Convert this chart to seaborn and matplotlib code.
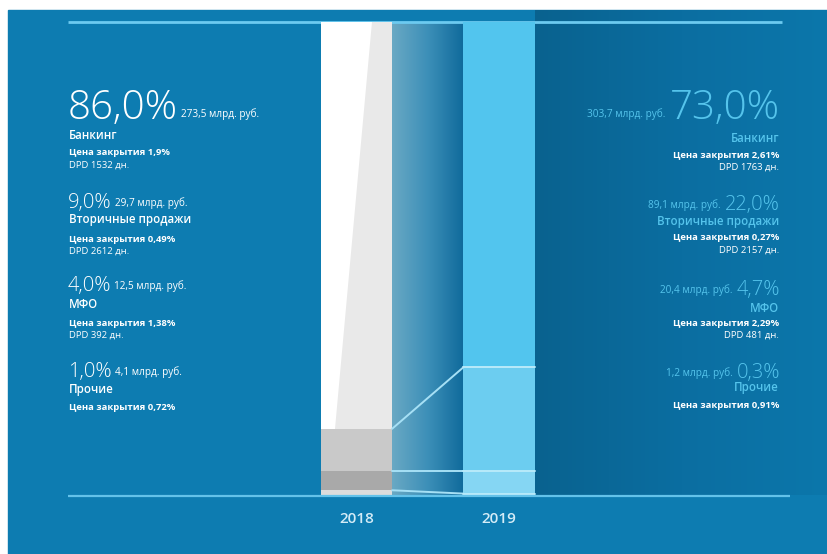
import numpy as np
import matplotlib
matplotlib.use("Agg")
import matplotlib.pyplot as plt
from matplotlib.colors import LinearSegmentedColormap
from matplotlib.patches import Rectangle, Polygon
import seaborn as sns

# ---- data -------------------------------------------------------------
years = ["2018", "2019"]
categories = ["Банкинг", "Вторичные продажи", "МФО", "Прочие"]
share_2018 = [86.0, 9.0, 4.0, 1.0]
share_2019 = [73.0, 22.0, 4.7, 0.3]
amount_2018 = ["273,5", "29,7", "12,5", "4,1"]
amount_2019 = ["303,7", "89,1", "20,4", "1,2"]
close_2018 = ["1,9%", "0,49%", "1,38%", "0,72%"]
close_2019 = ["2,61%", "0,27%", "2,29%", "0,91%"]
dpd_2018 = ["1532", "2612", "392", None]
dpd_2019 = ["1763", "2157", "481", None]

# ---- style ------------------------------------------------------------
sns.set_theme(style="white")
plt.rcParams["font.family"] = ["Open Sans", "DejaVu Sans"]

W, H = 828, 554
fig = plt.figure(figsize=(W / 100, H / 100), dpi=100, facecolor="white")

PANEL = "#0d7cb1"
fig.patches.append(Rectangle((8 / W, 0), (W - 8) / W, (H - 10) / H,
                             transform=fig.transFigure, color=PANEL,
                             zorder=-5))

ax = fig.add_axes([0, 0, 1, 1])
ax.set_facecolor("none")
XLIM = (-356.5 / 142.5, (W - 356.5) / 142.5)
YLIM = ((495 - H) / 4.73, 495 / 4.73)
panel_top = (495 - 10) / 4.73

bar_w = 0.5
pos = {"2018": 0.0, "2019": 1.0}

# darker zone to the right of the 2019 column
dark = LinearSegmentedColormap.from_list(
    "dark", [(0, "#09628f"), (0.5, "#0b6ea1"), (1, "#0c77ab")])
ax.imshow(np.linspace(0, 1, 256)[None, :], cmap=dark, aspect="auto",
          extent=(1 + bar_w / 2, XLIM[1], 0, panel_top), zorder=1,
          interpolation="bilinear")

# band linking the two columns
band = LinearSegmentedColormap.from_list(
    "band", [(0, "#6aa9c4"), (0.5, "#3c8fb8"), (1, "#0f6a9b")])
ax.imshow(np.linspace(0, 1, 256)[None, :], cmap=band, aspect="auto",
          extent=(bar_w / 2, 1 - bar_w / 2, 0, 100), zorder=1,
          interpolation="bilinear")

# frame lines
ax.plot([(68 - 356.5) / 142.5, (782 - 356.5) / 142.5], [100, 100],
        color="#6ccaf0", lw=2, zorder=1.5, solid_capstyle="butt")
ax.plot([(68 - 356.5) / 142.5, (790 - 356.5) / 142.5], [-0.3, -0.3],
        color="#63c2ea", lw=1.6, zorder=5, solid_capstyle="butt")

# stacked columns, bottom segment first
colors_2018 = ["#ffffff", "#c9c9c9", "#a9a9a9", "#dcdcdc"]
colors_2019 = ["#52c5ee", "#6ccdf0", "#85d6f3", "#ffffff"]
shares = {"2018": share_2018, "2019": share_2019}
cols = {"2018": colors_2018, "2019": colors_2019}
bounds = {}
for yr in years:
    bottom = 0.0
    bl = []
    for i in reversed(range(len(categories))):
        v = shares[yr][i]
        sns.barplot(x=[pos[yr]], y=[v], bottom=bottom, color=cols[yr][i],
                    native_scale=True, width=bar_w, saturation=1,
                    linewidth=0, ax=ax, zorder=2)
        bottom += v
        bl.append(bottom)
    bounds[yr] = bl

# grey wedge on the 2018 banking block
b_top = bounds["2018"][-1]
b_bot = bounds["2018"][-2]
x0 = pos["2018"] - bar_w / 2
ax.add_patch(Polygon([(x0 + 0.72 * bar_w, b_top), (x0 + bar_w, b_top),
                      (x0 + bar_w, b_bot), (x0 + 0.2 * bar_w, b_bot)],
                     closed=True, color="#e9e9e9", lw=0, zorder=3))

# connector lines and segment separators
for c18, c19 in zip(bounds["2018"][:-1], bounds["2019"][:-1]):
    ax.plot([bar_w / 2, 1 - bar_w / 2], [c18, c19], color="#a6e0f5",
            lw=1.4, zorder=4)
    ax.plot([1 - bar_w / 2, 1 + bar_w / 2], [c19, c19], color="#b8eafa",
            lw=1.4, zorder=4)

ax.set_xlim(*XLIM)
ax.set_ylim(*YLIM)
ax.axis("off")

# year labels
for yr in years:
    ax.text(pos[yr], (495 - 519) / 4.73, yr, ha="center", va="center",
            fontsize=11, fontweight="semibold", color="#d4ecf7", zorder=6)

# ---- text blocks -------------------------------------------------------
renderer = fig.canvas.get_renderer()


def ftext(px, py, s, **kw):
    return fig.text(px / W, 1 - py / H, s, **kw)


def width_of(t):
    return t.get_window_extent(renderer).width


CYAN = "#55c4ec"
WHITE = "#ffffff"
big_sizes = [29, 14.5, 14.5, 14.5]
left_base = [119, 208, 291, 377]
left_name = [136, 220, 305, 389]
left_close = [153, 239, 323, 407]
right_base = [119, 210, 295, 378]
right_name = [139, 221, 308, 388]
right_close = [155, 238, 323, 405]

for i, cat in enumerate(categories):
    # 2018, left side
    t = ftext(68, left_base[i], f"{share_2018[i]:.1f}%".replace(".", ","),
              fontsize=big_sizes[i], fontweight="light", color=WHITE,
              ha="left", va="baseline")
    wpx = width_of(t)
    ftext(68 + wpx + 3, left_base[i] - 2, f"{amount_2018[i]} млрд. руб.",
          fontsize=7.2, color=WHITE, ha="left", va="baseline")
    ftext(69, left_name[i], cat, fontsize=8.3, color=WHITE, ha="left",
          va="center", fontweight="semibold")
    ftext(69, left_close[i], f"Цена закрытия {close_2018[i]}", fontsize=6.8,
          color=WHITE, ha="left", va="center", fontweight="bold")
    if dpd_2018[i]:
        ftext(69, left_close[i] + 12, f"DPD {dpd_2018[i]} дн.", fontsize=6.8,
              color=WHITE, ha="left", va="center")

    # 2019, right side
    t = ftext(780, right_base[i], f"{share_2019[i]:.1f}%".replace(".", ","),
              fontsize=big_sizes[i], fontweight="light", color=CYAN,
              ha="right", va="baseline")
    wpx = width_of(t)
    ftext(780 - wpx - 4, right_base[i] - 2, f"{amount_2019[i]} млрд. руб.",
          fontsize=7.2, color=CYAN, ha="right", va="baseline")
    ftext(779, right_name[i], cat, fontsize=8.3, color=CYAN, ha="right",
          va="center", fontweight="semibold")
    ftext(779, right_close[i], f"Цена закрытия {close_2019[i]}", fontsize=6.8,
          color=WHITE, ha="right", va="center", fontweight="bold")
    if dpd_2019[i]:
        ftext(779, right_close[i] + 12, f"DPD {dpd_2019[i]} дн.", fontsize=6.8,
              color=WHITE, ha="right", va="center")

fig.savefig("out.png", dpi=100, facecolor="white")
